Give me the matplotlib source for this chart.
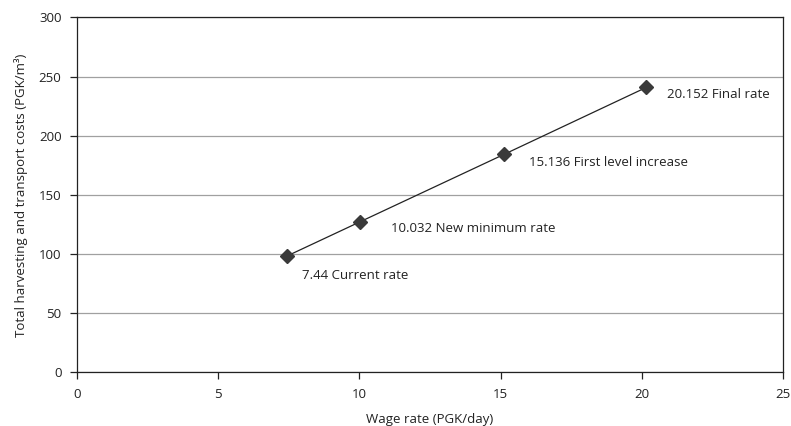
import matplotlib
matplotlib.use("Agg")
import matplotlib.pyplot as plt

# wage rate (PGK/day) and total cost (PGK/m3)
wage = [7.44, 10.032, 15.136, 20.152]
cost = [98.3, 127.3, 184.4, 240.8]
labels = ["7.44 Current rate", "10.032 New minimum rate",
          "15.136 First level increase", "20.152 Final rate"]
# label offsets in points (dx, dy)
offsets = [(11, -14), (22, -5), (18, -6), (15, -5)]

plt.rcParams['font.family'] = ['Open Sans', 'DejaVu Sans']
plt.rcParams['font.size'] = 9.5

fig = plt.figure(figsize=(7.91, 4.26), dpi=100)
ax = fig.add_axes([0.097, 0.126, 0.893, 0.833])

ax.plot(wage, cost, color='#222222', lw=0.9, marker='D', markersize=7,
        markerfacecolor='#3a3a3a', markeredgecolor='#3a3a3a', zorder=3)

for x, y, t, (dx, dy) in zip(wage, cost, labels, offsets):
    ax.annotate(t, (x, y), xytext=(dx, dy), textcoords='offset points',
                ha='left', va='center', color='#222222')

ax.set_xlim(0, 25)
ax.set_ylim(0, 300)
ax.set_xticks([0, 5, 10, 15, 20, 25])
ax.set_yticks([0, 50, 100, 150, 200, 250, 300])
ax.yaxis.grid(True, color='#a0a0a0', lw=0.9)
ax.set_axisbelow(True)

for s in ax.spines.values():
    s.set_color('#222222')
    s.set_linewidth(0.9)
ax.tick_params(direction='out', length=5, width=0.9, color='#222222',
               labelcolor='#222222', pad=6)

ax.set_xlabel("Wage rate (PGK/day)", color='#222222', labelpad=9)
ax.set_ylabel("Total harvesting and transport costs (PGK/m³)", color='#222222', labelpad=8)

fig.savefig("out.png", dpi=100)
